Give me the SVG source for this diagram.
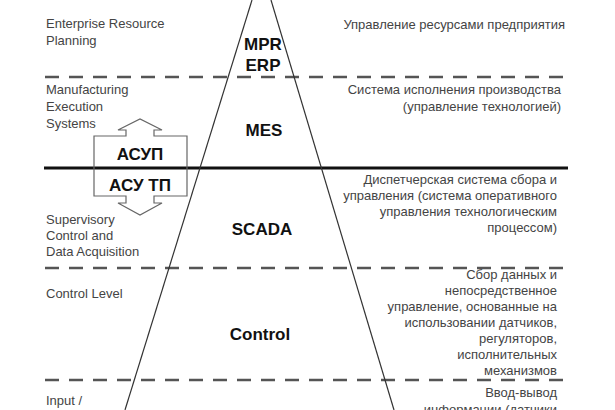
<svg xmlns="http://www.w3.org/2000/svg" width="615" height="410" viewBox="0 0 615 410">
<style>
.l{font-family:"Liberation Sans",Arial,sans-serif;font-size:13px;fill:#444}
.r{font-family:"Liberation Sans",Arial,sans-serif;font-size:13px;fill:#444;text-anchor:end}
.b{font-family:"Liberation Sans",Arial,sans-serif;font-size:17px;font-weight:bold;fill:#111;text-anchor:middle}
.d{stroke:#555;stroke-width:2.5;stroke-dasharray:14 10;fill:none}
</style>
<rect width="615" height="410" fill="#fff"/>
<g id="connectors">
<line x1="45" y1="77" x2="568" y2="77" class="d"/>
<line x1="45" y1="268" x2="568" y2="268" class="d"/>
<line x1="45" y1="380" x2="568" y2="380" class="d"/>
<line x1="44" y1="168" x2="568" y2="168" stroke="#111" stroke-width="3"/>
<line x1="252" y1="0" x2="125" y2="410" stroke="#333" stroke-width="1.2"/>
<line x1="271" y1="0" x2="394" y2="410" stroke="#333" stroke-width="1.2"/>
</g>
<g id="arrow">
<path d="M94,196 V136 H126 V130 H118 L140,119 L162,130 H154 V136 H187 V196 H154 V203 H162 L140,215 L118,203 H126 V196 Z" fill="none" stroke="#666" stroke-width="1.2"/>
<text x="140" y="160" class="b" font-size="14">АСУП</text>
<text x="140" y="191" class="b" font-size="14">АСУ ТП</text>
</g>
<g id="erp">
<text x="46" y="28" class="l">Enterprise Resource</text>
<text x="46" y="45" class="l">Planning</text>
<text x="263" y="50" class="b">MPR</text>
<text x="263" y="71" class="b">ERP</text>
<text x="565" y="29" class="r">Управление ресурсами предприятия</text>
</g>
<g id="mes">
<text x="46" y="94" class="l">Manufacturing</text>
<text x="46" y="111" class="l">Execution</text>
<text x="46" y="128" class="l">Systems</text>
<text x="264" y="136" class="b">MES</text>
<text x="561" y="94" class="r">Система исполнения производства</text>
<text x="561" y="111" class="r">(управление технологией)</text>
</g>
<g id="scada">
<text x="46" y="224" class="l">Supervisory</text>
<text x="46" y="240" class="l">Control and</text>
<text x="46" y="256" class="l">Data Acquisition</text>
<text x="262" y="235" class="b">SCADA</text>
<text x="557" y="184" class="r">Диспетчерская система сбора и</text>
<text x="557" y="200" class="r">управления (система оперативного</text>
<text x="557" y="216" class="r">управления технологическим</text>
<text x="557" y="232" class="r">процессом)</text>
</g>
<g id="control">
<text x="46" y="298" class="l">Control Level</text>
<text x="260" y="340" class="b">Control</text>
<text x="557" y="279" class="r">Сбор данных и</text>
<text x="557" y="295" class="r">непосредственное</text>
<text x="557" y="311" class="r">управление, основанные на</text>
<text x="557" y="327" class="r">использовании датчиков,</text>
<text x="557" y="343" class="r">регуляторов,</text>
<text x="557" y="359" class="r">исполнительных</text>
<text x="557" y="375" class="r">механизмов</text>
</g>
<g id="io">
<text x="46" y="405" class="l">Input /</text>
<text x="557" y="397" class="r">Ввод-вывод</text>
<text x="557" y="414" class="r">информации (датчики</text>
</g>
</svg>
